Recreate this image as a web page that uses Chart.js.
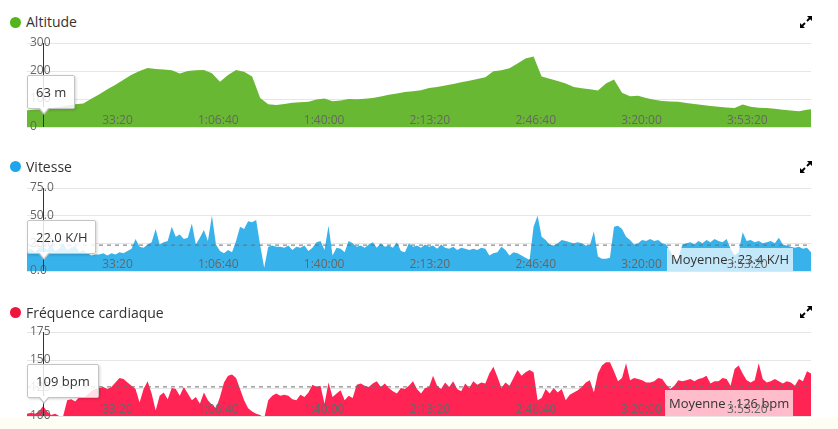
<!DOCTYPE html>
<html lang="fr">
<head>
<meta charset="utf-8">
<title>Activité</title>
<script src="https://cdn.jsdelivr.net/npm/chart.js@4.4.1/dist/chart.umd.min.js"></script>
<style>
  body { margin: 0; background: #fff; font-family: 'Open Sans', sans-serif; }
  #page { position: relative; width: 838px; height: 429px; overflow: hidden; }
  .title { position: absolute; left: 26px; font-size: 14px; line-height: 20px; color: #333; white-space: nowrap; }
  .dot { position: absolute; left: 10px; width: 11px; height: 11px; border-radius: 50%; }
  .expand { position: absolute; left: 800px; width: 12px; height: 12px; }
  .panel { position: absolute; left: 0; width: 838px; }
  .panel canvas { position: absolute; left: 0; top: 0; }
  .tip {
    position: absolute; display: none; box-sizing: border-box; height: 34px;
    padding: 0 8px; line-height: 32px; font-size: 13px; color: #333; white-space: nowrap;
    background: rgba(255,255,255,0.85); border: 1px solid #c4c4c4; border-radius: 2px;
    box-shadow: 1px 1px 3px rgba(0,0,0,0.18);
  }
  .tip::before {
    content: ''; position: absolute; left: 10px; bottom: -7px;
    border-left: 6px solid transparent; border-right: 6px solid transparent; border-top: 7px solid #c4c4c4;
  }
  .tip::after {
    content: ''; position: absolute; left: 11px; bottom: -5px;
    border-left: 5px solid transparent; border-right: 5px solid transparent; border-top: 6px solid #fff;
  }
  #footer { position: absolute; left: 0; top: 418px; width: 838px; height: 11px; background: #fdfdf4; }
</style>
</head>
<body>
<div id="page">
  <div id="footer"></div>

  <span class="dot" style="top:17px;background:#55b320"></span>
  <div class="title" style="top:12px">Altitude</div>
  <svg class="expand" style="top:16px" viewBox="0 0 12 12"><path d="M12 0V5L7 0Z M0 12V7L5 12Z" fill="#000"/><path d="M10.5 1.5L7 5M1.5 10.5L5 7" stroke="#000" stroke-width="1.8"/></svg>
  <div class="panel" style="top:30px;height:108px"><canvas id="chartAlt" width="838" height="108"></canvas><div class="tip" id="tipAlt"></div></div>

  <span class="dot" style="top:161px;background:#1fa6e8"></span>
  <div class="title" style="top:157px">Vitesse</div>
  <svg class="expand" style="top:161px" viewBox="0 0 12 12"><path d="M12 0V5L7 0Z M0 12V7L5 12Z" fill="#000"/><path d="M10.5 1.5L7 5M1.5 10.5L5 7" stroke="#000" stroke-width="1.8"/></svg>
  <div class="panel" style="top:175px;height:107px"><canvas id="chartSpeed" width="838" height="107"></canvas><div class="tip" id="tipSpeed"></div></div>

  <span class="dot" style="top:307px;background:#ef163e"></span>
  <div class="title" style="top:303px">Fréquence cardiaque</div>
  <svg class="expand" style="top:306px" viewBox="0 0 12 12"><path d="M12 0V5L7 0Z M0 12V7L5 12Z" fill="#000"/><path d="M10.5 1.5L7 5M1.5 10.5L5 7" stroke="#000" stroke-width="1.8"/></svg>
  <div class="panel" style="top:319px;height:108px"><canvas id="chartHr" width="838" height="108"></canvas><div class="tip" id="tipHr"></div></div>
</div>
<script>
// altitude sampled every 152 s, speed and heart rate every 76 s
const altStep = 152;
const altitude = [
  60, 62, 63, 68, 72, 77, 81, 84, 101, 117,
  135, 151, 169, 187, 200, 211, 207, 205, 203, 191,
  200, 203, 204, 192, 162, 186, 204, 197, 180, 104,
  81, 79, 82, 87, 88, 90, 98, 102, 92, 95,
  100, 99, 101, 104, 109, 115, 120, 125, 128, 131,
  139, 143, 148, 154, 160, 165, 171, 178, 199, 203,
  210, 227, 245, 252, 180, 172, 164, 155, 143, 138,
  135, 130, 155, 170, 122, 110, 112, 104, 97, 93,
  91, 90, 86, 82, 79, 75, 72, 70, 68, 80,
  72, 69, 68, 65, 62, 59, 56, 62, 64
];

const sampleStep = 76;
const speed = [
  18, 20, 17, 21, 22, 19, 24, 18, 20, 25,
  19, 21, 23, 17, 19, 16, 14, 15, 15, 16,
  14, 16, 15, 17, 16, 18, 20, 29, 22, 21,
  24, 26, 38, 24, 26, 27, 40, 31, 33, 29,
  30, 43, 24, 30, 37, 27, 50, 24, 18, 16,
  19, 17, 27, 40, 38, 45, 44, 46, 23, 3,
  22, 23, 22, 22, 21, 23, 19, 22, 21, 23,
  18, 21, 26, 27, 19, 41, 14, 21, 20, 17,
  27, 25, 22, 23, 21, 24, 26, 21, 25, 22,
  23, 21, 26, 18, 17, 25, 22, 23, 21, 24,
  22, 23, 20, 24, 21, 20, 22, 19, 21, 20,
  19, 20, 19, 21, 20, 14, 16, 17, 22, 19,
  14, 17, 16, 14, 12, 10, 40, 50, 31, 28,
  24, 23, 25, 28, 27, 26, 25, 26, 25, 23,
  23, 36, 13, 11, 11, 12, 40, 41, 38, 31,
  28, 24, 25, 28, 27, 29, 27, 28, 25, 24,
  18, 10, 11, 24, 25, 26, 24, 27, 25, 28,
  26, 29, 27, 26, 29, 20, 14, 17, 35, 27,
  28, 26, 27, 25, 26, 27, 25, 30, 24, 23,
  22, 21, 22, 20, 21, 17
];

const heartRate = [
  102, 103, 102, 104, 109, 104, 101, 102, 100, 100,
  114, 115, 113, 117, 116, 119, 122, 124, 125, 126,
  124, 126, 130, 134, 133, 130, 127, 124, 112, 124,
  131, 120, 105, 118, 121, 115, 125, 124, 118, 126,
  120, 114, 117, 111, 121, 114, 110, 107, 117, 130,
  136, 137, 134, 124, 114, 107, 104, 102, 101, 98,
  114, 118, 120, 118, 119, 118, 115, 114, 119, 117,
  121, 128, 126, 127, 111, 130, 117, 120, 123, 114,
  118, 116, 128, 129, 127, 126, 129, 131, 126, 129,
  125, 122, 120, 125, 124, 127, 131, 124, 120, 125,
  126, 136, 127, 124, 130, 126, 131, 124, 122, 129,
  125, 131, 128, 130, 129, 138, 144, 135, 125, 130,
  127, 134, 141, 136, 139, 141, 139, 114, 116, 124,
  120, 125, 121, 124, 114, 119, 121, 123, 126, 130,
  132, 121, 138, 145, 148, 148, 140, 131, 134, 147,
  132, 134, 133, 132, 130, 130, 131, 134, 133, 128,
  124, 127, 132, 131, 132, 133, 131, 133, 134, 136,
  129, 131, 131, 134, 133, 127, 142, 145, 138, 132,
  130, 132, 147, 133, 130, 131, 133, 131, 129, 131,
  130, 127, 133, 131, 140, 138
];

const speedAvg = 23.4;
const hrAvg = 126;
const timeTicks = [2000, 4000, 6000, 8000, 10000, 12000, 14000];
const duration = 14820;
const hoverTime = 304;

const tickFont = { family: "'Open Sans', sans-serif", size: 12 };

function fmtTime(s) {
    const h = Math.floor(s / 3600);
    const m = Math.floor(s % 3600 / 60);
    const sec = s % 60;
    const pad = n => String(n).padStart(2, '0');
    return h ? `${h}:${pad(m)}:${pad(sec)}` : `${m}:${pad(sec)}`;
}

// average label box + crosshair of the hovered point
const meanBox = {
    id: 'meanBox',
    afterDatasetsDraw(chart, args, opts) {
        if (!opts.text) return;
        const { ctx, chartArea } = chart;
        const top = Math.round(chart.scales.y.getPixelForValue(opts.value)) + 3;
        ctx.save();
        ctx.font = "13px 'Open Sans', sans-serif";
        const w = Math.round(ctx.measureText(opts.text).width) + 8;
        const left = chartArea.right - 18 - w;
        ctx.fillStyle = 'rgba(255,255,255,0.7)';
        ctx.fillRect(left, top, w, chartArea.bottom - top);
        ctx.fillStyle = '#333';
        ctx.textBaseline = 'middle';
        ctx.fillText(opts.text, left + 4, (top + chartArea.bottom) / 2 + 1);
        ctx.restore();
    },
    afterDraw(chart) {
        const active = chart.tooltip ? chart.tooltip.getActiveElements() : [];
        if (!active.length) return;
        const { ctx, chartArea } = chart;
        const x = Math.round(active[0].element.x) + 0.5;
        ctx.save();
        ctx.strokeStyle = '#333';
        ctx.lineWidth = 1;
        ctx.beginPath();
        ctx.moveTo(x, chartArea.top);
        ctx.lineTo(x, chartArea.bottom);
        ctx.stroke();
        ctx.restore();
    }
};

function makeChart(id, tipId, o) {
    const tipEl = document.getElementById(tipId);
    const canvas = document.getElementById(id);
    const datasets = [{
        data: o.values.map((v, i) => ({ x: i * o.step, y: v })),
        fill: 'start',
        backgroundColor: o.color,
        borderWidth: 0,
        pointRadius: 0,
        pointHoverRadius: 0,
        order: 1
    }];
    if (o.mean !== undefined) {
        datasets.push({
            data: [{ x: 0, y: o.mean }, { x: duration, y: o.mean }],
            borderColor: '#6e6e6e',
            borderWidth: 1,
            borderDash: [4, 4],
            pointRadius: 0,
            fill: false,
            order: 0
        });
    }

    const chart = new Chart(canvas, {
        type: 'line',
        data: { datasets },
        plugins: [meanBox],
        options: {
            responsive: false,
            animation: false,
            events: [],
            layout: { padding: { left: 27, right: 27, top: 13, bottom: 11 } },
            scales: {
                x: {
                    type: 'linear',
                    min: 0,
                    max: duration,
                    grid: { display: false },
                    border: { display: false },
                    afterBuildTicks: s => { s.ticks = timeTicks.map(v => ({ value: v })); },
                    afterFit: s => { s.height = 0; },
                    ticks: {
                        align: 'end',
                        mirror: true,
                        padding: -1,
                        z: 1,
                        color: '#666',
                        font: tickFont,
                        maxRotation: 0,
                        autoSkip: false,
                        callback: v => fmtTime(v)
                    }
                },
                y: {
                    min: o.min,
                    max: o.max,
                    border: { display: false },
                    grid: { color: '#e6e6e6', drawTicks: false },
                    ticks: {
                        stepSize: o.stepSize,
                        mirror: true,
                        padding: 3,
                        z: 1,
                        color: '#666',
                        font: tickFont,
                        callback: v => v.toFixed(o.decimals)
                    }
                }
            },
            plugins: {
                legend: { display: false },
                meanBox: { value: o.mean, text: o.meanText },
                tooltip: {
                    enabled: false,
                    callbacks: {
                        title: () => '',
                        label: ctx => o.tipText(ctx.parsed.y)
                    },
                    external: ({ chart, tooltip }) => {
                        if (!tooltip.opacity) { tipEl.style.display = 'none'; return; }
                        tipEl.textContent = tooltip.body[0].lines[0];
                        tipEl.style.left = (tooltip.caretX - 16) + 'px';
                        tipEl.style.top = (chart.chartArea.top + 32) + 'px';
                        tipEl.style.display = 'block';
                    }
                }
            }
        }
    });

    // pin the plot area to where it sits in the original page
    const want = { left: 27, right: 811, top: 13, bottom: canvas.height - 11 };
    const pad = chart.options.layout.padding;
    pad.left += want.left - chart.chartArea.left;
    pad.right += chart.chartArea.right - want.right;
    pad.top += want.top - chart.chartArea.top;
    pad.bottom += chart.chartArea.bottom - want.bottom;
    chart.update();

    chart.tooltip.setActiveElements([{ datasetIndex: 0, index: hoverTime / o.step }], { x: 0, y: 0 });
    chart.draw();
    return chart;
}

makeChart('chartAlt', 'tipAlt', {
    values: altitude, step: altStep, color: '#69b833',
    min: 0, max: 300, stepSize: 100, decimals: 0,
    tipText: v => `${Math.round(v)} m`
});

makeChart('chartSpeed', 'tipSpeed', {
    values: speed, step: sampleStep, color: '#38b2ea',
    min: 0, max: 75, stepSize: 25, decimals: 1,
    mean: speedAvg, meanText: `Moyenne : ${speedAvg.toFixed(1)} K/H`,
    tipText: v => `${v.toFixed(1)} K/H`
});

makeChart('chartHr', 'tipHr', {
    values: heartRate, step: sampleStep, color: '#ff2453',
    min: 100, max: 175, stepSize: 25, decimals: 0,
    mean: hrAvg, meanText: `Moyenne : ${hrAvg} bpm`,
    tipText: v => `${Math.round(v)} bpm`
});
</script>
</body>
</html>
